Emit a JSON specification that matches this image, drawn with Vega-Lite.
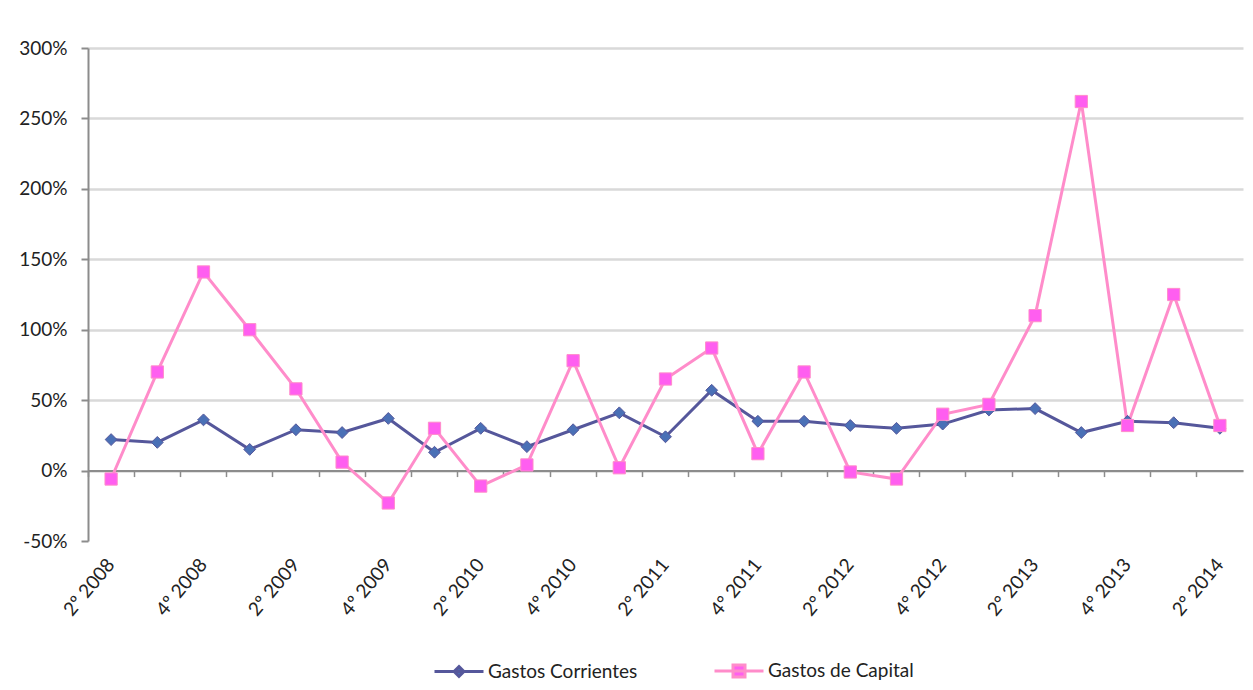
{
  "$schema": "https://vega.github.io/schema/vega-lite/v6.json",
  "autosize": {"type": "none"},
  "padding": {"left": 88, "top": 48, "right": 10, "bottom": 149},
  "width": 1155,
  "height": 493,
  "background": "white",
  "config": {
    "view": {"stroke": null},
    "font": "Lato",
    "axis": {"labelFont": "Lato", "labelColor": "#222222", "labelFontSize": 19, "titleFont": "Lato"},
    "legend": {"labelFont": "Lato", "labelColor": "#222222", "labelFontSize": 19}
  },
  "data": {
    "values": [
      {"q": "2º 2008", "serie": "Gastos Corrientes", "v": 0.22}, {"q": "2º 2008", "serie": "Gastos de Capital", "v": -0.06},
      {"q": "3º 2008", "serie": "Gastos Corrientes", "v": 0.20}, {"q": "3º 2008", "serie": "Gastos de Capital", "v": 0.70},
      {"q": "4º 2008", "serie": "Gastos Corrientes", "v": 0.36}, {"q": "4º 2008", "serie": "Gastos de Capital", "v": 1.41},
      {"q": "1º 2009", "serie": "Gastos Corrientes", "v": 0.15}, {"q": "1º 2009", "serie": "Gastos de Capital", "v": 1.00},
      {"q": "2º 2009", "serie": "Gastos Corrientes", "v": 0.29}, {"q": "2º 2009", "serie": "Gastos de Capital", "v": 0.58},
      {"q": "3º 2009", "serie": "Gastos Corrientes", "v": 0.27}, {"q": "3º 2009", "serie": "Gastos de Capital", "v": 0.06},
      {"q": "4º 2009", "serie": "Gastos Corrientes", "v": 0.37}, {"q": "4º 2009", "serie": "Gastos de Capital", "v": -0.23},
      {"q": "1º 2010", "serie": "Gastos Corrientes", "v": 0.13}, {"q": "1º 2010", "serie": "Gastos de Capital", "v": 0.30},
      {"q": "2º 2010", "serie": "Gastos Corrientes", "v": 0.30}, {"q": "2º 2010", "serie": "Gastos de Capital", "v": -0.11},
      {"q": "3º 2010", "serie": "Gastos Corrientes", "v": 0.17}, {"q": "3º 2010", "serie": "Gastos de Capital", "v": 0.04},
      {"q": "4º 2010", "serie": "Gastos Corrientes", "v": 0.29}, {"q": "4º 2010", "serie": "Gastos de Capital", "v": 0.78},
      {"q": "1° 2011", "serie": "Gastos Corrientes", "v": 0.41}, {"q": "1° 2011", "serie": "Gastos de Capital", "v": 0.02},
      {"q": "2° 2011", "serie": "Gastos Corrientes", "v": 0.24}, {"q": "2° 2011", "serie": "Gastos de Capital", "v": 0.65},
      {"q": "3° 2011", "serie": "Gastos Corrientes", "v": 0.57}, {"q": "3° 2011", "serie": "Gastos de Capital", "v": 0.87},
      {"q": "4° 2011", "serie": "Gastos Corrientes", "v": 0.35}, {"q": "4° 2011", "serie": "Gastos de Capital", "v": 0.12},
      {"q": "1° 2012", "serie": "Gastos Corrientes", "v": 0.35}, {"q": "1° 2012", "serie": "Gastos de Capital", "v": 0.70},
      {"q": "2° 2012", "serie": "Gastos Corrientes", "v": 0.32}, {"q": "2° 2012", "serie": "Gastos de Capital", "v": -0.01},
      {"q": "3° 2012", "serie": "Gastos Corrientes", "v": 0.30}, {"q": "3° 2012", "serie": "Gastos de Capital", "v": -0.06},
      {"q": "4° 2012", "serie": "Gastos Corrientes", "v": 0.33}, {"q": "4° 2012", "serie": "Gastos de Capital", "v": 0.40},
      {"q": "1° 2013", "serie": "Gastos Corrientes", "v": 0.43}, {"q": "1° 2013", "serie": "Gastos de Capital", "v": 0.47},
      {"q": "2° 2013", "serie": "Gastos Corrientes", "v": 0.44}, {"q": "2° 2013", "serie": "Gastos de Capital", "v": 1.10},
      {"q": "3° 2013", "serie": "Gastos Corrientes", "v": 0.27}, {"q": "3° 2013", "serie": "Gastos de Capital", "v": 2.62},
      {"q": "4° 2013", "serie": "Gastos Corrientes", "v": 0.35}, {"q": "4° 2013", "serie": "Gastos de Capital", "v": 0.32},
      {"q": "1° 2014", "serie": "Gastos Corrientes", "v": 0.34}, {"q": "1° 2014", "serie": "Gastos de Capital", "v": 1.25},
      {"q": "2° 2014", "serie": "Gastos Corrientes", "v": 0.30}, {"q": "2° 2014", "serie": "Gastos de Capital", "v": 0.32}
    ]
  },
  "resolve": {"axis": {"x": "independent"}},
  "layer": [
    {
      "mark": {"type": "line", "strokeWidth": 3},
      "encoding": {
        "x": {
          "field": "q", "type": "ordinal", "sort": null, "bandPosition": 0.5,
          "scale": {"type": "band", "paddingInner": 0, "paddingOuter": 0},
          "axis": {
            "orient": "bottom", "title": null, "domain": false, "ticks": false, "grid": false,
            "labelAngle": -50, "labelAlign": "right", "labelBaseline": "middle", "labelPadding": 20,
            "values": ["2º 2008", "4º 2008", "2º 2009", "4º 2009", "2º 2010", "4º 2010", "2° 2011", "4° 2011", "2° 2012", "4° 2012", "2° 2013", "4° 2013", "2° 2014"]
          }
        },
        "y": {
          "field": "v", "type": "quantitative",
          "scale": {"domain": [-0.5, 3], "nice": false, "zero": false},
          "axis": {
            "title": null, "format": ".0%", "values": [-0.5, 0, 0.5, 1, 1.5, 2, 2.5, 3],
            "labelExpr": "replace(datum.label, '−', '-')",
            "domainColor": "#8c8c8c", "domainWidth": 2, "tickColor": "#8c8c8c", "tickWidth": 2, "tickSize": 7,
            "labelPadding": 14,
            "grid": true, "gridColor": "#d9d9d9", "gridWidth": 2.5,
            "gridOpacity": {"condition": {"test": "datum.value < -0.4", "value": 0}, "value": 1}
          }
        },
        "color": {
          "field": "serie", "type": "nominal",
          "scale": {"domain": ["Gastos Corrientes", "Gastos de Capital"], "range": ["#55579b", "#ff8cca"]},
          "legend": {
            "title": null, "orient": "none", "direction": "horizontal", "legendX": 345, "legendY": 596.5, "padding": 0,
            "symbolSize": 2401, "symbolType": "M-1,0H1", "columnPadding": 70, "labelOffset": 3,
            "symbolStrokeWidth": 3,
            "encode": {
              "symbols": {
                "update": {
                  "shape": {"signal": "datum.value === 'Gastos Corrientes' ? 'M-1,0H1M0,-0.2L0.2,0L0,0.2L-0.2,0Z' : 'M-1,0H1M-0.245,-0.245H0.245V0.245H-0.245Z'"},
                  "stroke": {"signal": "datum.value === 'Gastos Corrientes' ? '#55579b' : '#ff8cca'"},
                  "fill": {"signal": "datum.value === 'Gastos Corrientes' ? '#4a70b6' : '#ff5ef0'"},
                  "strokeWidth": {"value": 3},
                  "opacity": {"value": 1}
                }
              }
            }
          }
        }
      }
    },
    {
      "mark": {"type": "point", "filled": true, "opacity": 1, "strokeWidth": 1},
      "encoding": {
        "x": {"field": "q", "type": "ordinal", "sort": null, "bandPosition": 0.5,
          "axis": {
            "orient": "bottom", "title": null, "labels": false, "grid": false,
            "domain": true, "domainColor": "#8c8c8c", "domainWidth": 2,
            "ticks": true, "tickColor": "#8c8c8c", "tickWidth": 1.5, "tickSize": 6,
            "bandPosition": 0, "offset": -70.43
          }
        },
        "y": {"field": "v", "type": "quantitative"},
        "shape": {"condition": {"test": "datum.serie === 'Gastos Corrientes'", "value": "diamond"}, "value": "square"},
        "size": {"condition": {"test": "datum.serie === 'Gastos Corrientes'", "value": 140}, "value": 150},
        "fill": {"condition": {"test": "datum.serie === 'Gastos Corrientes'", "value": "#4a70b6"}, "value": "#ff5ef0"},
        "stroke": {"condition": {"test": "datum.serie === 'Gastos Corrientes'", "value": "#55579b"}, "value": "#ff8cca"}
      }
    }
  ]
}
